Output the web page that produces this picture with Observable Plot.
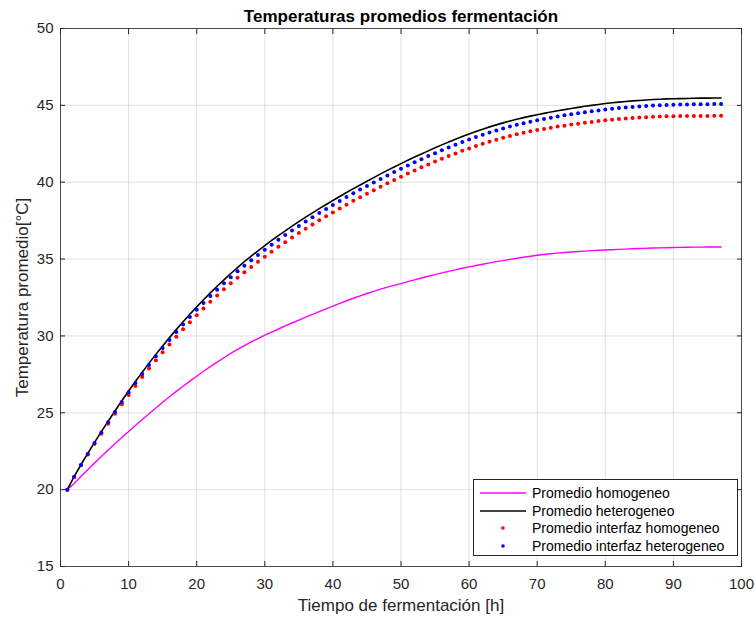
<!DOCTYPE html>
<html>
<head>
<meta charset="utf-8">
<script src="https://cdn.jsdelivr.net/npm/d3@7"></script>
<script src="https://cdn.jsdelivr.net/npm/@observablehq/plot@0.6"></script>
<style>
  body { margin: 0; background: #fff; }
  #chart { position: relative; width: 756px; height: 618px; font-family: "Liberation Sans", Arial, Helvetica, sans-serif; }
  .legend { position: absolute; left: 473px; top: 479px; width: 265px; height: 77px; box-sizing: border-box; border: 1px solid #262626; background: #fff; font-size: 14px; color: #000; }
  .legend .row { position: absolute; left: 6px; height: 18px; display: flex; align-items: center; white-space: nowrap; }
  .legend svg { width: 46px; height: 18px; margin-right: 6px; }
</style>
</head>
<body>
<div id="chart"></div>
<script>
// Fermentation time (hours), one sample per hour
const hours = Array.from({ length: 97 }, (_, i) => i + 1);

// Average temperature, homogeneous model [°C]
const promHomogeneo = [
  20.00, 20.40, 20.85, 21.29, 21.73, 22.16, 22.58, 22.99, 23.39, 23.78,
  24.17, 24.56, 24.94, 25.31, 25.68, 26.04, 26.39, 26.73, 27.06, 27.38,
  27.70, 28.00, 28.30, 28.58, 28.86, 29.12, 29.37, 29.61, 29.83, 30.05,
  30.25, 30.45, 30.65, 30.84, 31.03, 31.22, 31.40, 31.58, 31.76, 31.94,
  32.12, 32.29, 32.45, 32.61, 32.76, 32.90, 33.04, 33.17, 33.29, 33.40,
  33.53, 33.65, 33.77, 33.88, 33.99, 34.10, 34.20, 34.30, 34.40, 34.49,
  34.58, 34.66, 34.75, 34.83, 34.90, 34.98, 35.05, 35.12, 35.18, 35.25,
  35.30, 35.35, 35.39, 35.43, 35.46, 35.49, 35.52, 35.55, 35.57, 35.59,
  35.61, 35.63, 35.65, 35.67, 35.69, 35.70, 35.72, 35.73, 35.74, 35.75,
  35.76, 35.77, 35.78, 35.78, 35.79, 35.79, 35.79
];

// Average temperature, heterogeneous model [°C]
const promHeterogeneo = [
  20.00, 20.85, 21.62, 22.35, 23.07, 23.77, 24.45, 25.12, 25.78, 26.42,
  27.04, 27.64, 28.23, 28.80, 29.35, 29.89, 30.41, 30.92, 31.41, 31.89,
  32.35, 32.80, 33.23, 33.65, 34.06, 34.45, 34.83, 35.19, 35.54, 35.88,
  36.21, 36.53, 36.84, 37.14, 37.44, 37.73, 38.01, 38.28, 38.55, 38.81,
  39.07, 39.33, 39.58, 39.82, 40.06, 40.30, 40.54, 40.77, 40.99, 41.21,
  41.43, 41.64, 41.84, 42.04, 42.24, 42.43, 42.61, 42.79, 42.97, 43.14,
  43.30, 43.45, 43.60, 43.73, 43.86, 43.98, 44.10, 44.20, 44.30, 44.39,
  44.48, 44.57, 44.65, 44.72, 44.80, 44.87, 44.94, 45.00, 45.06, 45.12,
  45.17, 45.21, 45.25, 45.29, 45.32, 45.35, 45.38, 45.40, 45.42, 45.43,
  45.44, 45.45, 45.46, 45.47, 45.47, 45.48, 45.48
];

// Average interface temperature, homogeneous model [°C]
const interfazHomogeneo = [
  20.00, 20.83, 21.58, 22.28, 22.97, 23.64, 24.29, 24.93, 25.55, 26.16,
  26.75, 27.32, 27.88, 28.42, 28.94, 29.45, 29.94, 30.43, 30.89, 31.35,
  31.79, 32.22, 32.63, 33.03, 33.42, 33.79, 34.15, 34.49, 34.83, 35.15,
  35.48, 35.80, 36.10, 36.40, 36.69, 36.97, 37.25, 37.52, 37.78, 38.03,
  38.29, 38.54, 38.79, 39.02, 39.25, 39.48, 39.70, 39.93, 40.15, 40.36,
  40.57, 40.77, 40.97, 41.16, 41.34, 41.53, 41.70, 41.87, 42.04, 42.20,
  42.36, 42.50, 42.63, 42.77, 42.89, 43.01, 43.12, 43.21, 43.31, 43.39,
  43.47, 43.54, 43.62, 43.68, 43.75, 43.81, 43.87, 43.92, 43.98, 44.03,
  44.07, 44.11, 44.15, 44.18, 44.21, 44.23, 44.26, 44.27, 44.29, 44.29,
  44.30, 44.30, 44.31, 44.31, 44.31, 44.32, 44.32
];

// Average interface temperature, heterogeneous model [°C]
const interfazHeterogeneo = [
  20.00, 20.84, 21.60, 22.32, 23.03, 23.72, 24.39, 25.05, 25.70, 26.33,
  26.94, 27.53, 28.11, 28.67, 29.21, 29.74, 30.25, 30.75, 31.23, 31.70,
  32.15, 32.59, 33.01, 33.42, 33.82, 34.20, 34.57, 34.92, 35.27, 35.60,
  35.93, 36.25, 36.56, 36.86, 37.15, 37.44, 37.72, 37.99, 38.25, 38.51,
  38.77, 39.03, 39.28, 39.52, 39.75, 39.98, 40.21, 40.44, 40.66, 40.88,
  41.09, 41.30, 41.50, 41.70, 41.89, 42.08, 42.26, 42.44, 42.61, 42.78,
  42.94, 43.09, 43.23, 43.37, 43.50, 43.62, 43.74, 43.84, 43.94, 44.03,
  44.12, 44.20, 44.28, 44.35, 44.42, 44.49, 44.55, 44.61, 44.67, 44.73,
  44.78, 44.82, 44.86, 44.90, 44.93, 44.96, 44.99, 45.01, 45.03, 45.04,
  45.05, 45.06, 45.07, 45.08, 45.08, 45.09, 45.09
];

const xTicks = [0, 10, 20, 30, 40, 50, 60, 70, 80, 90, 100];
const yTicks = [15, 20, 25, 30, 35, 40, 45, 50];

const titulo = "Temperaturas promedios fermentación";
const etiquetaX = "Tiempo de fermentación [h]";
const etiquetaY = "Temperatura promedio[°C]";

const series = [
  { name: "Promedio homogeneo", values: promHomogeneo, color: "#ff00ff", kind: "line", width: 1.4 },
  { name: "Promedio heterogeneo", values: promHeterogeneo, color: "#000000", kind: "line", width: 1.6 },
  { name: "Promedio interfaz homogeneo", values: interfazHomogeneo, color: "#ff0000", kind: "dot" },
  { name: "Promedio interfaz heterogeneo", values: interfazHeterogeneo, color: "#0000ff", kind: "dot" }
];

const rows = s => hours.map((t, i) => ({ t, T: s.values[i] }));

const axisColor = "#262626";
const font = "\"Liberation Sans\", Arial, Helvetica, sans-serif";

const marks = [
  Plot.gridX(xTicks, { stroke: "#000", strokeOpacity: 0.12 }),
  Plot.gridY(yTicks, { stroke: "#000", strokeOpacity: 0.12 })
];
for (const s of series) {
  if (s.kind === "line") {
    marks.push(Plot.line(rows(s), { x: "t", y: "T", stroke: s.color, strokeWidth: s.width }));
  } else {
    marks.push(Plot.dot(rows(s), { x: "t", y: "T", r: 2, fill: s.color, stroke: null }));
  }
}
marks.push(
  Plot.frame({ stroke: axisColor, strokeOpacity: 0.8 }),
  // inward tick marks on all four sides of the box
  Plot.axisX({ ticks: xTicks, anchor: "bottom", tickSize: 5, dy: -5, tickFormat: () => "", label: null, stroke: axisColor }),
  Plot.axisX({ ticks: xTicks, anchor: "top", tickSize: 5, dy: 5, tickFormat: () => "", label: null, stroke: axisColor }),
  Plot.axisY({ ticks: yTicks, anchor: "left", tickSize: 5, dx: 5, tickFormat: () => "", label: null, stroke: axisColor }),
  Plot.axisY({ ticks: yTicks, anchor: "right", tickSize: 5, dx: -5, tickFormat: () => "", label: null, stroke: axisColor }),
  // tick labels
  Plot.axisX({ ticks: xTicks, anchor: "bottom", tickSize: 0, tickPadding: 12, label: null, fontSize: 15, fill: axisColor }),
  Plot.axisY({ ticks: yTicks, anchor: "left", tickSize: 0, tickPadding: 7, label: null, fontSize: 15, fill: axisColor }),
  // titles
  Plot.text([titulo], { text: d => d, frameAnchor: "top", lineAnchor: "middle", dy: -12, fontSize: 17, fontWeight: "bold", fill: "#000" }),
  Plot.text([etiquetaX], { text: d => d, frameAnchor: "bottom", lineAnchor: "middle", textAnchor: "middle", dy: 39, fontSize: 17, fill: axisColor }),
  Plot.text([etiquetaY], { text: d => d, frameAnchor: "left", lineAnchor: "middle", textAnchor: "middle", dx: -38, rotate: -90, fontSize: 17, fill: axisColor })
);

const chart = Plot.plot({
  width: 756,
  height: 618,
  marginLeft: 60,
  marginRight: 15,
  marginTop: 28,
  marginBottom: 52,
  style: { fontFamily: font, background: "#fff", overflow: "visible" },
  x: { domain: [0, 100] },
  y: { domain: [15, 50] },
  marks
});

const container = document.getElementById("chart");
container.appendChild(chart);

// legend box in the lower right corner of the axes
const legend = document.createElement("div");
legend.className = "legend";
series.forEach((s, i) => {
  const row = document.createElement("div");
  row.className = "row";
  row.style.top = (3.7 + i * 17.8) + "px";
  const sw = s.kind === "line"
    ? `<svg viewBox="0 0 46 18"><line x1="0" x2="46" y1="9" y2="9" stroke="${s.color}" stroke-width="1.6"/></svg>`
    : `<svg viewBox="0 0 46 18"><circle cx="23" cy="9" r="1.8" fill="${s.color}"/></svg>`;
  row.innerHTML = sw + `<span>${s.name}</span>`;
  legend.appendChild(row);
});
container.appendChild(legend);
</script>
</body>
</html>
